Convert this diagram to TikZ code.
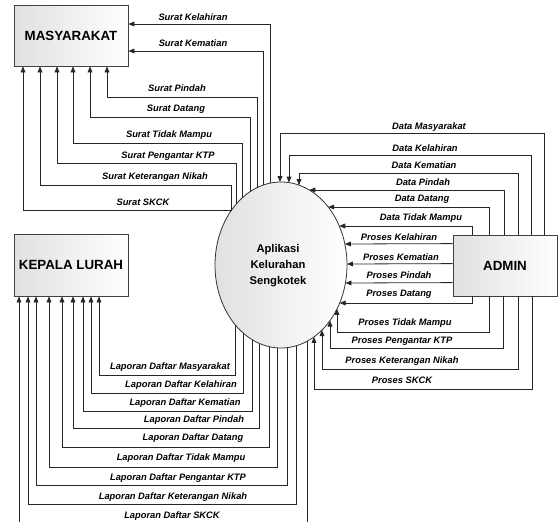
\documentclass[tikz,border=0pt]{standalone}
\usepackage{fontspec}
\setmainfont{Liberation Sans}
\usetikzlibrary{arrows.meta,shapes.geometric,calc}
\pgfmathdeclarefunction{eh}{1}{\pgfmathparse{83*sqrt(max(0,1-((#1)/66)^2))}}
\pgfmathdeclarefunction{ew}{1}{\pgfmathparse{66*sqrt(max(0,1-((#1)/83)^2))}}
\begin{document}
\begin{tikzpicture}[x=0.75pt,y=-0.75pt,
  flow/.style={draw=black!85, line width=0.6pt, -{Triangle[length=4.5pt,width=3.6pt]}},
  lbl/.style={font=\fontsize{7}{8}\selectfont\bfseries\itshape, inner sep=0pt},
  ent/.style={draw=black!75, line width=0.6pt, left color=black!12, right color=white,
    font=\fontsize{10}{12}\selectfont\bfseries, inner sep=0pt},
]
\useasboundingbox (0,0) rectangle (558,522);
\clip (0,0) rectangle (558,522);

% entities
\node[ent, minimum width=85.5pt, minimum height=45.75pt] (M) at (71,35.5) {MASYARAKAT};
\node[ent, minimum width=85.5pt, minimum height=46.5pt] (K) at (71,265) {KEPALA LURAH};
\node[ent, minimum width=78pt, minimum height=45.75pt] (A) at (505,265.5) {ADMIN};
\node[ellipse, draw=black!80, line width=0.6pt, left color=black!12, right color=white,
  minimum width=99pt, minimum height=124.5pt, inner sep=0pt] (E) at (281,265) {};
\node[align=center, inner sep=0pt, font=\fontsize{8.4}{12}\selectfont\bfseries] (Et) at (278,266) {Aplikasi\\Kelurahan\\Sengkotek};

% Surat -> MASYARAKAT
\draw[flow] ($(E)+(-11,{-eh(-11)})$) |- (M.east |- 0,24);
\draw[flow] ($(E)+(-18,{-eh(-18)})$) |- (M.east |- 0,51);
\draw[flow] ($(E)+(-24,{-eh(-24)})$) |- (107,97) -- (M.south -| 107,0);
\draw[flow] ($(E)+(-31,{-eh(-31)})$) |- (90,117) -- (M.south -| 90,0);
\draw[flow] ($(E)+(-39,{-eh(-39)})$) |- (73,143) -- (M.south -| 73,0);
\draw[flow] ($(E)+(-45,{-eh(-45)})$) |- (57,163) -- (M.south -| 57,0);
\draw[flow] ($(E)+(-50,{-eh(-50)})$) |- (40,185) -- (M.south -| 40,0);
\draw[flow] ($(E)+({-ew(-55)},-55)$) -- (23,210) -- (M.south -| 23,0);

\node[lbl] (s1) at (193,17) {Surat Kelahiran};
\node[lbl] (s2) at (193,43) {Surat Kematian};
\node[lbl] (s3) at (177,88) {Surat Pindah};
\node[lbl] (s4) at (176,109) {Surat Datang};
\node[lbl] (s5) at (169,135) {Surat Tidak Mampu};
\node[lbl] (s6) at (168,156) {Surat Pengantar KTP};
\node[lbl] (s7) at (155,177) {Surat Keterangan Nikah};
\node[lbl] (s8) at (143,202) {Surat SKCK};

% Data: ADMIN -> ellipse
\draw[flow] ($(A.north west)+(92,0)$) |- (280,133) -- ($(E)+(-1,{-eh(-1)})$);
\draw[flow] ($(A.north west)+(79,0)$) |- (289,155) -- ($(E)+(8,{-eh(8)})$);
\draw[flow] ($(A.north west)+(66,0)$) |- (299,173) -- ($(E)+(18,{-eh(18)})$);
\draw[flow] ($(A.north west)+(52,0)$) |- ($(E)+({ew(-75)},-75)$);
\draw[flow] ($(A.north west)+(37,0)$) |- ($(E)+({ew(-58)},-58)$);
\draw[flow] ($(A.north west)+(20,0)$) |- ($(E)+({ew(-39)},-39)$);
\draw[flow] ($(A.north west)+(0,9)$) -- ($(E)+({ew(-21)},-21)$);
\draw[flow] ($(A.north west)+(0,29)$) -- ($(E)+({ew(-1)},-1)$);
\draw[flow] ($(A.north west)+(0,48)$) -- ($(E)+({ew(18)},18)$);
\draw[flow] ($(A.south west)+(20,0)$) |- ($(E)+({ew(38)},38)$);
\draw[flow] ($(A.south west)+(37,0)$) |- (337,332) -- ($(E)+(56,{eh(56)})$);
\draw[flow] ($(A.south west)+(51,0)$) |- (330,348) -- ($(E)+(49,{eh(49)})$);
\draw[flow] ($(A.south west)+(66,0)$) |- (322,369) -- ($(E)+(41,{eh(41)})$);
\draw[flow] ($(A.south west)+(80,0)$) |- (314,389) -- ($(E)+(33,{eh(33)})$);

\node[lbl] (d1) at (429,127) {Data Masyarakat};
\node[lbl] (d2) at (425,148) {Data Kelahiran};
\node[lbl] (d3) at (424,165) {Data Kematian};
\node[lbl] (d4) at (423,182) {Data Pindah};
\node[lbl] (d5) at (422,199) {Data Datang};
\node[lbl] (d6) at (421,218) {Data Tidak Mampu};
\node[lbl] (p1) at (399,237) {Proses Kelahiran};
\node[lbl] (p2) at (401,257) {Proses Kematian};
\node[lbl] (p3) at (399,275) {Proses Pindah};
\node[lbl] (p4) at (399,294) {Proses Datang};
\node[lbl] (p5) at (405,323) {Proses Tidak Mampu};
\node[lbl] (p6) at (402,341) {Proses Pengantar KTP};
\node[lbl] (p7) at (402,361) {Proses Keterangan Nikah};
\node[lbl] (p8) at (402,380) {Proses SKCK};

% Laporan: ellipse -> KEPALA LURAH
\draw[flow] ($(E)+(-46,{eh(-46)})$) |- (99,375) -- (K.south -| 99,0);
\draw[flow] ($(E)+(-38,{eh(-38)})$) |- (91,393) -- (K.south -| 91,0);
\draw[flow] ($(E)+(-29,{eh(-29)})$) |- (83,411) -- (K.south -| 83,0);
\draw[flow] ($(E)+(-22,{eh(-22)})$) |- (73,428) -- (K.south -| 73,0);
\draw[flow] ($(E)+(-12,{eh(-12)})$) |- (62,447) -- (K.south -| 62,0);
\draw[flow] ($(E)+(-4,{eh(-4)})$) |- (49,467) -- (K.south -| 49,0);
\draw[flow] ($(E)+(6,{eh(6)})$) |- (36,485) -- (K.south -| 36,0);
\draw[flow] ($(E)+(15,{eh(15)})$) |- (28,504) -- (K.south -| 28,0);
\draw[flow] ($(E)+(26,{eh(26)})$) |- (19,530) -- (K.south -| 19,0);

\node[lbl] (r1) at (170,367) {Laporan Daftar Masyarakat};
\node[lbl] (r2) at (181,385) {Laporan Daftar Kelahiran};
\node[lbl] (r3) at (185,403) {Laporan Daftar Kematian};
\node[lbl] (r4) at (194,420) {Laporan Daftar Pindah};
\node[lbl] (r5) at (193,438) {Laporan Daftar Datang};
\node[lbl] (r6) at (181,458) {Laporan Daftar Tidak Mampu};
\node[lbl] (r7) at (178,478) {Laporan Daftar Pengantar KTP};
\node[lbl] (r8) at (173,497) {Laporan Daftar Keterangan Nikah};
\node[lbl] (r9) at (172,516) {Laporan Daftar SKCK};
\end{tikzpicture}
\end{document}
